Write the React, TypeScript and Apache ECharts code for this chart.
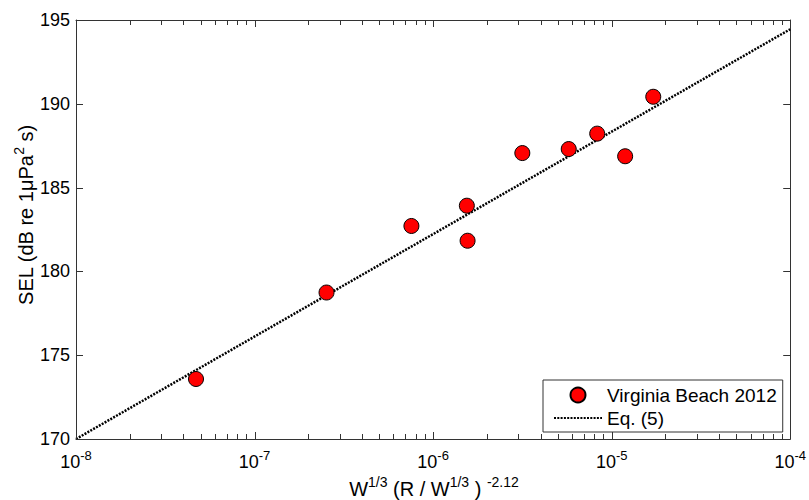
import React, { useEffect, useRef } from 'react';
import * as echarts from 'echarts';

const seriesNames = ['Virginia Beach 2012', 'Eq. (5)'];
const obsX = [4.7e-8, 2.53e-7, 7.56e-7, 1.545e-6, 1.56e-6, 3.16e-6, 5.75e-6, 8.3e-6, 1.19e-5, 1.71e-5];
const obsY = [173.58, 178.74, 182.71, 183.92, 181.83, 187.06, 187.3, 188.22, 186.87, 190.42];
const eqX = [1e-8, 1e-4];
const eqY = [170, 194.45];
const xMin = 1e-8;
const xMax = 1e-4;
const decadeExps = [-8, -7, -6, -5, -4];
const minorMultipliers = [2, 3, 4, 5, 6, 7, 8, 9];
const yMin = 170;
const yMax = 195;
const yStep = 5;
const yTickValues = [170, 175, 180, 185, 190, 195];
const xTitle = '{m|W}{s|1/3}{m| (R / W}{s|1/3}{m| ) }{s|-2.12}';
const yTitle = '{m|SEL (dB re 1\u03bcPa}{s|2}{m| s)}';

const FONT = '"Liberation Sans", Arial, sans-serif';
const AXIS_COLOR = '#333';
const TICK_COLOR = '#333';

export default function App() {
  const ref = useRef<HTMLDivElement>(null);
  useEffect(() => {
    if (!ref.current) return;
    const chart = echarts.init(ref.current, undefined, { renderer: 'svg' });

    const xTickData: number[][] = [];
    decadeExps.forEach((e, i) => {
      xTickData.push([Math.pow(10, e), 7]);
      if (i < decadeExps.length - 1) {
        minorMultipliers.forEach((m) => xTickData.push([m * Math.pow(10, e), 5]));
      }
    });

    const axisLineStyle = { color: AXIS_COLOR, width: 1 };
    const logFormatter = (v: number) => `{b|10}{s|${Math.round(Math.log10(v))}}`;

    const titles = [
      {
        type: 'text',
        x: 24,
        y: 215,
        rotation: Math.PI / 2,
        style: {
          text: yTitle,
          align: 'center',
          verticalAlign: 'middle',
          rich: {
            m: { fontSize: 20, fontFamily: FONT, fill: '#000', lineHeight: 24, verticalAlign: 'bottom' },
            s: { fontSize: 14, fontFamily: FONT, fill: '#000', lineHeight: 10, verticalAlign: 'top' },
          },
        },
      },
      {
        type: 'text',
        x: 434,
        y: 487,
        style: {
          text: xTitle,
          align: 'center',
          verticalAlign: 'middle',
          rich: {
            m: { fontSize: 20, fontFamily: FONT, fill: '#000', lineHeight: 24, verticalAlign: 'bottom' },
            s: { fontSize: 14, fontFamily: FONT, fill: '#000', lineHeight: 10, verticalAlign: 'top' },
          },
        },
      },
    ];

    chart.setOption({
      animation: false,
      backgroundColor: '#fff',
      textStyle: { fontFamily: FONT },
      grid: { left: 76, right: 16, top: 20, bottom: 61, containLabel: false },
      xAxis: [
        {
          type: 'log',
          logBase: 10,
          min: xMin,
          max: xMax,
          splitNumber: 4,
          position: 'bottom',
          axisLine: { show: true, onZero: false, lineStyle: axisLineStyle },
          axisTick: { show: false },
          axisLabel: {
            margin: 10,
            formatter: logFormatter,
            rich: {
              b: { fontSize: 18, fontFamily: FONT, color: '#000', lineHeight: 22, verticalAlign: 'bottom' },
              s: { fontSize: 13, fontFamily: FONT, color: '#000', lineHeight: 8, verticalAlign: 'top' },
            },
          },
          splitLine: { show: false },
        },
        {
          type: 'log',
          logBase: 10,
          min: xMin,
          max: xMax,
          splitNumber: 4,
          position: 'top',
          axisLine: { show: true, onZero: false, lineStyle: axisLineStyle },
          axisTick: { show: false },
          axisLabel: { show: false },
          splitLine: { show: false },
        },
      ],
      yAxis: [
        {
          type: 'value',
          min: yMin,
          max: yMax,
          interval: yStep,
          position: 'left',
          axisLine: { show: true, onZero: false, lineStyle: axisLineStyle },
          axisTick: { show: false },
          axisLabel: { margin: 6, fontSize: 18, fontFamily: FONT, color: '#000' },
          splitLine: { show: false },
        },
        {
          type: 'value',
          min: yMin,
          max: yMax,
          interval: yStep,
          position: 'right',
          axisLine: { show: true, onZero: false, lineStyle: axisLineStyle },
          axisTick: { show: false },
          axisLabel: { show: false },
          splitLine: { show: false },
        },
      ],
      legend: {
        data: [
          { name: seriesNames[0] },
          { name: seriesNames[1], itemStyle: { color: 'transparent', borderWidth: 0, borderColor: 'transparent' } },
        ],
        orient: 'vertical',
        left: 543,
        top: 380,
        padding: [5, 6, 4, 10],
        itemWidth: 48,
        itemHeight: 15,
        itemGap: 3,
        backgroundColor: '#fff',
        borderColor: '#333',
        borderWidth: 1,
        borderRadius: 0,
        textStyle: { fontSize: 19, fontFamily: FONT, color: '#000', lineHeight: 20 },
        z: 10,
      },
      graphic: titles,
      series: [
        {
          name: seriesNames[0],
          type: 'scatter',
          xAxisIndex: 0,
          yAxisIndex: 0,
          data: obsX.map((x, i) => [x, obsY[i]]),
          symbol: 'circle',
          symbolSize: 15,
          itemStyle: { color: '#ff0000', borderColor: '#000', borderWidth: 1, opacity: 1 },
          z: 3,
        },
        {
          name: seriesNames[1],
          type: 'line',
          xAxisIndex: 0,
          yAxisIndex: 0,
          data: eqX.map((x, i) => [x, eqY[i]]),
          symbol: 'none',
          lineStyle: { color: '#000', width: 2.5, type: [2, 1.3] },
          itemStyle: { color: '#000' },
          z: 2,
        },
      ],
    });

    // Tick marks positioned through the axes' own scales.
    const finder = { xAxisIndex: 0, yAxisIndex: 0 };
    const [, bottom] = chart.convertToPixel(finder, [xMin, yMin]) as number[];
    const [, top] = chart.convertToPixel(finder, [xMin, yMax]) as number[];
    const [left] = chart.convertToPixel(finder, [xMin, yMin]) as number[];
    const [right] = chart.convertToPixel(finder, [xMax, yMin]) as number[];
    const tickStyle = { stroke: TICK_COLOR, lineWidth: 1 };
    const ticks: any[] = [];
    xTickData.forEach(([v, len]) => {
      const px = Math.round((chart.convertToPixel(finder, [v, yMin]) as number[])[0]) + 0.5;
      ticks.push({ type: 'line', silent: true, z: 5, shape: { x1: px, y1: bottom, x2: px, y2: bottom - len }, style: tickStyle });
      ticks.push({ type: 'line', silent: true, z: 5, shape: { x1: px, y1: top, x2: px, y2: top + len }, style: tickStyle });
    });
    yTickValues.forEach((v) => {
      const py = Math.round((chart.convertToPixel(finder, [xMin, v]) as number[])[1]) + 0.5;
      ticks.push({ type: 'line', silent: true, z: 5, shape: { x1: left, y1: py, x2: left + 7, y2: py }, style: tickStyle });
      ticks.push({ type: 'line', silent: true, z: 5, shape: { x1: right, y1: py, x2: right - 7, y2: py }, style: tickStyle });
    });
    chart.setOption({ graphic: [...titles, ...ticks] }, { replaceMerge: ['graphic'] });

    return () => chart.dispose();
  }, []);
  return <div ref={ref} style={{ position: 'fixed', left: 0, top: 0, width: 809, height: 500 }} />;
}
